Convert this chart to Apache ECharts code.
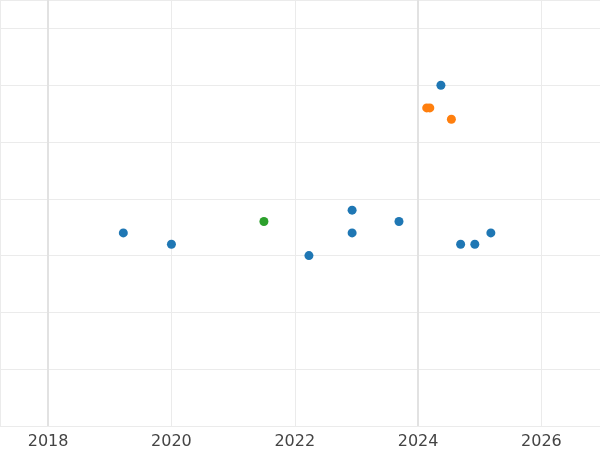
<!DOCTYPE html>
<html>
<head>
<meta charset="utf-8">
<script src="https://cdn.jsdelivr.net/npm/echarts@6/dist/echarts.min.js"></script>
<style>html,body{margin:0;padding:0;background:#fff}#chart{width:600px;height:450px}</style>
</head>
<body>
<div id="chart"></div>
<script>
// decimal year, value
const blueX = [2019.22, 2020.0, 2022.23, 2022.93, 2022.93, 2023.69, 2024.37, 2024.69, 2024.92, 2025.18]
const blueY = [3.4, 3.2, 3.0, 3.8, 3.4, 3.6, 6.0, 3.2, 3.2, 3.4]
const orangeX = [2024.14, 2024.19, 2024.54]
const orangeY = [5.6, 5.6, 5.4]
const greenX = [2021.5]
const greenY = [3.6]
const strongYears = [2018, 2024]

const pts = (xs, ys) => xs.map((x, i) => [x, ys[i]])

const chart = echarts.init(document.getElementById('chart'))

const mkSeries = (name, xs, ys, color, extra) => Object.assign({
	name: name,
	type: 'scatter',
	symbolSize: 9,
	itemStyle: { color: color, opacity: 1 },
	data: pts(xs, ys),
}, extra || {})

chart.setOption({
	animation: false,
	grid: { left: 0, right: 0, top: 0, bottom: 23 },
	xAxis: {
		type: 'value',
		min: 2017.22,
		max: 2026.95,
		splitNumber: 5,
		axisLine: { show: false },
		axisTick: { show: false },
		axisLabel: {
			color: '#444', fontSize: 16, fontFamily: 'DejaVu Sans', margin: 8,
			showMinLabel: false, showMaxLabel: false,
			formatter: (v) => (Math.abs(v - Math.round(v)) < 1e-6 ? String(Math.round(v)) : ''),
		},
		splitLine: { show: true, lineStyle: { color: '#ebebeb' } },
	},
	yAxis: {
		type: 'value',
		min: 0,
		max: 7.5,
		interval: 1,
		axisLine: { show: false },
		axisTick: { show: false },
		axisLabel: { show: false },
		splitLine: { show: true, lineStyle: { color: '#ebebeb' } },
	},
	series: [
		mkSeries('a', blueX, blueY, '#1f77b4', {
			markLine: {
				silent: true,
				symbol: 'none',
				label: { show: false },
				lineStyle: { color: '#e2e2e2', type: 'solid', width: 2 },
				data: strongYears.map((y) => ({ xAxis: y })),
			},
		}),
		mkSeries('b', orangeX, orangeY, '#ff7f0e'),
		mkSeries('c', greenX, greenY, '#2ca02c'),
	],
})
</script>
</body>
</html>
